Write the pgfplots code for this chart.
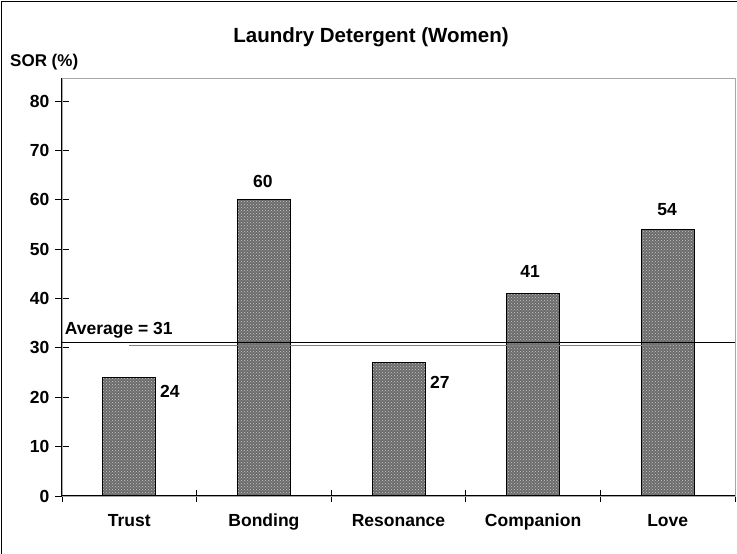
\documentclass[border=0pt]{standalone}
\usepackage{pgfplots}
\pgfplotsset{compat=1.18}
\usepackage{fontspec}
\setmainfont{Liberation Sans}
\usetikzlibrary{patterns}
\begin{document}
\begin{tikzpicture}[x=1pt,y=1pt]
\useasboundingbox (0,0) rectangle (737,554);
\draw[black, line width=1.2pt] (1.5,0) -- (1.5,552.5) -- (737,552.5);
\begin{axis}[
  at={(62pt,58pt)}, anchor=south west,
  scale only axis, width=673pt, height=418pt,
  xmin=-0.5, xmax=4.5, ymin=0, ymax=84.66,
  axis line style={gray!70, line width=0.8pt},
  tick pos=left,
  ytick={0,10,...,80},
  xtick={0,...,4}, xticklabels={Trust,Bonding,Resonance,Companion,Love},
  minor xtick={-0.5,0.5,...,4.5},
  tick align=center, major tick length=14pt, minor tick length=12pt,
  every major x tick/.append style={draw=none},
  tick style={black, line width=0.8pt},
  /pgf/number format/assume math mode=true,
  yticklabel style={font=\bfseries\fontsize{17.5}{20}\selectfont, xshift=-2pt},
  xticklabel style={font=\bfseries\fontsize{17.5}{20}\selectfont, text height=13pt, text depth=4pt, yshift=-7pt},
  clip=false,
]
\addplot[ybar, bar width=53pt, draw=black, line width=1pt, fill=black!58,
  postaction={pattern=crosshatch dots, pattern color=black!22}]
  coordinates {(0,24) (1,60) (2,27) (3,41) (4,54)};
\addplot[black, line width=1pt] coordinates {(-0.5,31) (4.5,31)};
\addplot[gray, line width=0.8pt] coordinates {(0,30.55) (4.02,30.55)};
\draw[black, line width=1pt] (rel axis cs:0,1) -- (rel axis cs:0,0) -- (rel axis cs:1,0);
\node[font=\bfseries\fontsize{17.5}{20}\selectfont] at (axis cs:0.302,21.1) {24};
\node[font=\bfseries\fontsize{17.5}{20}\selectfont] at (axis cs:0.993,63.6) {60};
\node[font=\bfseries\fontsize{17.5}{20}\selectfont] at (axis cs:2.308,23.1) {27};
\node[font=\bfseries\fontsize{17.5}{20}\selectfont] at (axis cs:2.977,45.4) {41};
\node[font=\bfseries\fontsize{17.5}{20}\selectfont] at (axis cs:3.995,58.1) {54};
\node[font=\bfseries\fontsize{17.5}{20}\selectfont, anchor=west, inner sep=0pt] at (axis cs:-0.48,33.6) {Average = 31};
\end{axis}
\node[font=\bfseries\fontsize{20.5}{24}\selectfont] at (371,517) {Laundry Detergent (Women)};
\node[font=\bfseries\fontsize{17}{20}\selectfont, anchor=west, inner sep=0pt] at (10,492) {SOR (\%)};
\end{tikzpicture}
\end{document}
